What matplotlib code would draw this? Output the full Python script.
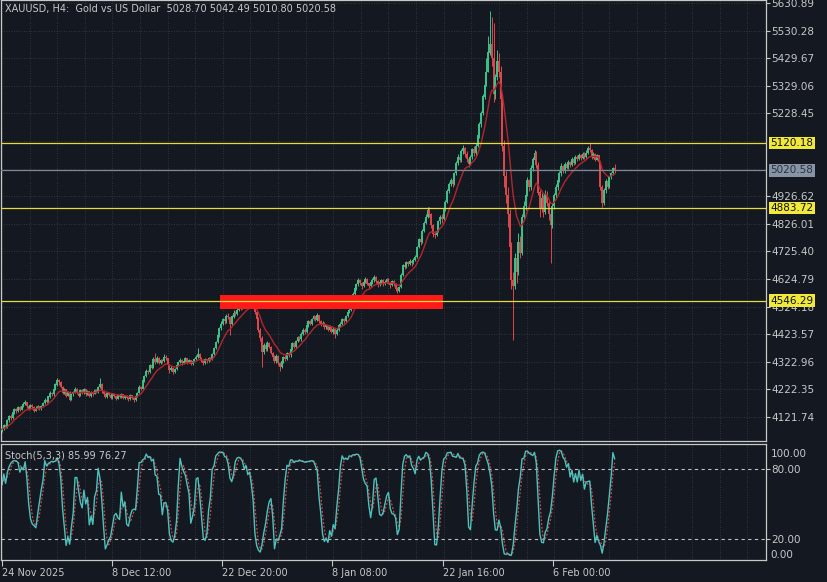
import numpy as np
import pandas as pd
import matplotlib
matplotlib.use('Agg')
import matplotlib.pyplot as plt
from matplotlib.patches import Rectangle
import matplotlib.transforms as mtransforms

# --- data (one value per candle) ---
first_open = 4070

closes = [
    4078, 4092, 4085, 4110, 4124, 4118, 4138, 4150, 4142, 4158,
    4148, 4162, 4170, 4176, 4160, 4152, 4166, 4158, 4145, 4155,
    4160, 4150, 4162, 4172, 4185, 4178, 4196, 4210, 4204, 4225,
    4240, 4255, 4248, 4232, 4210, 4222, 4200, 4214, 4185, 4205,
    4212, 4225, 4208, 4200, 4218, 4210, 4222, 4205, 4215, 4200,
    4212, 4206, 4220, 4214, 4230, 4242, 4215, 4205, 4196, 4210,
    4202, 4190, 4206, 4198, 4188, 4200, 4194, 4205, 4190, 4198,
    4192, 4186, 4200, 4190, 4182, 4196, 4210, 4232, 4225, 4255,
    4270, 4290, 4284, 4310, 4302, 4332, 4322, 4338, 4318, 4330,
    4325, 4340, 4335, 4310, 4292, 4300, 4285, 4298, 4310, 4322,
    4330, 4318, 4326, 4335, 4320, 4328, 4316, 4325, 4334, 4340,
    4350, 4336, 4328, 4318, 4332, 4325, 4338, 4330, 4352, 4372,
    4395, 4420, 4445, 4462, 4478, 4470, 4490, 4485, 4460, 4488,
    4502, 4496, 4512, 4525, 4518, 4535, 4530, 4545, 4538, 4548,
    4540, 4528, 4505, 4480, 4440, 4410, 4360, 4385, 4370, 4390,
    4378, 4355, 4340, 4325, 4345, 4318, 4305, 4325, 4340, 4332,
    4355, 4348, 4370, 4390, 4378, 4400, 4412, 4405, 4425, 4440,
    4432, 4455, 4470, 4462, 4480, 4488, 4475, 4492, 4470, 4460,
    4465, 4448, 4455, 4440, 4450, 4432, 4442, 4425, 4440, 4455,
    4462, 4478, 4470, 4490, 4505, 4512, 4530, 4570, 4590, 4605,
    4620, 4610, 4600, 4615, 4625, 4608, 4598, 4612, 4622, 4630,
    4618, 4605, 4612, 4620, 4608, 4615, 4625, 4610, 4602, 4616,
    4605, 4590, 4582, 4595, 4640, 4675, 4670, 4685, 4678, 4690,
    4682, 4695, 4705, 4740, 4770, 4760, 4800, 4830, 4852, 4875,
    4860, 4820, 4790, 4785, 4800, 4835, 4850, 4845, 4880, 4905,
    4945, 4972, 4985, 4970, 5010, 5048, 5070, 5060, 5090, 5100,
    5080, 5062, 5045, 5070, 5098, 5085, 5110, 5150, 5190, 5230,
    5290, 5330, 5380, 5450, 5480, 5430, 5300, 5360, 5420, 5380,
    5280, 5110, 5000, 4930, 4860, 4740, 4620, 4600, 4700, 4650,
    4760, 4720, 4850, 4890, 4930, 4985, 4960, 5030, 5060, 5085,
    5040, 4940, 4880, 4920, 4870, 4935, 4900, 4860, 4820, 4890,
    4930, 4960, 4985, 5010, 5035, 5020, 5045, 5030, 5050, 5040,
    5060, 5048, 5070, 5062, 5078, 5065, 5080, 5070, 5085, 5100,
    5095, 5070, 5080, 5060, 5075, 5050, 4960, 4900, 4950, 4980,
    4960, 4995, 5010, 5028.70, 5020.58,
]

highs = [
    4084, 4098, 4100, 4115, 4130, 4132, 4142, 4156, 4155, 4163,
    4160, 4166, 4175, 4182, 4178, 4164, 4170, 4168, 4160, 4160,
    4166, 4163, 4166, 4176, 4190, 4188, 4200, 4215, 4214, 4230,
    4246, 4264, 4262, 4252, 4236, 4226, 4224, 4218, 4216, 4210,
    4218, 4230, 4228, 4212, 4222, 4222, 4228, 4225, 4220, 4218,
    4216, 4215, 4224, 4222, 4234, 4264, 4245, 4220, 4208, 4214,
    4214, 4205, 4210, 4208, 4200, 4204, 4203, 4210, 4207, 4202,
    4202, 4195, 4204, 4202, 4192, 4200, 4214, 4238, 4236, 4260,
    4276, 4296, 4294, 4315, 4314, 4340, 4355, 4344, 4340, 4334,
    4334, 4350, 4348, 4338, 4314, 4306, 4304, 4302, 4315, 4326,
    4336, 4334, 4330, 4340, 4338, 4332, 4330, 4328, 4338, 4346,
    4373, 4354, 4340, 4332, 4336, 4334, 4342, 4340, 4356, 4378,
    4400, 4425, 4450, 4470, 4484, 4486, 4496, 4500, 4488, 4494,
    4510, 4508, 4518, 4530, 4530, 4540, 4542, 4552, 4550, 4555,
    4556, 4548, 4532, 4510, 4486, 4446, 4416, 4392, 4394, 4398,
    4395, 4382, 4360, 4346, 4350, 4348, 4322, 4330, 4344, 4346,
    4360, 4360, 4375, 4395, 4394, 4404, 4418, 4416, 4430, 4446,
    4446, 4460, 4476, 4475, 4484, 4494, 4490, 4500, 4494, 4474,
    4472, 4468, 4460, 4458, 4456, 4452, 4448, 4444, 4445, 4460,
    4468, 4482, 4482, 4494, 4510, 4518, 4536, 4576, 4600, 4612,
    4628, 4626, 4614, 4620, 4632, 4628, 4612, 4618, 4628, 4638,
    4634, 4622, 4618, 4626, 4624, 4620, 4630, 4628, 4614, 4620,
    4620, 4610, 4594, 4600, 4646, 4680, 4684, 4690, 4690, 4696,
    4694, 4700, 4712, 4746, 4776, 4782, 4806, 4836, 4860, 4887,
    4888, 4866, 4826, 4800, 4810, 4840, 4858, 4862, 4886, 4912,
    4952, 4980, 4992, 4990, 5016, 5054, 5080, 5078, 5098, 5112,
    5106, 5090, 5068, 5076, 5104, 5108, 5120, 5158, 5198, 5238,
    5300, 5350, 5430, 5512, 5600, 5580, 5558, 5372, 5460, 5450,
    5400, 5290, 5130, 5020, 4960, 4880, 4760, 4650, 4720, 4730,
    4792, 4780, 4860, 4910, 4938, 4995, 4990, 5040, 5070, 5095,
    5092, 5050, 4950, 4940, 4930, 4950, 4945, 4912, 4880, 4900,
    4940, 4970, 4995, 5018, 5048, 5040, 5050, 5052, 5058, 5056,
    5068, 5066, 5078, 5076, 5084, 5082, 5088, 5086, 5094, 5110,
    5120, 5100, 5088, 5084, 5080, 5078, 5055, 4968, 4958, 4988,
    4985, 5002, 5016, 5034, 5042.49,
]

lows = [
    4066, 4074, 4080, 4082, 4105, 4112, 4114, 4134, 4138, 4140,
    4144, 4146, 4158, 4165, 4156, 4148, 4150, 4152, 4140, 4142,
    4150, 4146, 4148, 4160, 4170, 4174, 4176, 4192, 4198, 4200,
    4220, 4236, 4240, 4228, 4205, 4206, 4196, 4198, 4180, 4182,
    4200, 4208, 4204, 4196, 4198, 4206, 4206, 4200, 4202, 4196,
    4196, 4200, 4204, 4208, 4210, 4226, 4210, 4200, 4190, 4192,
    4198, 4186, 4188, 4194, 4184, 4186, 4190, 4192, 4186, 4188,
    4188, 4180, 4184, 4186, 4176, 4180, 4194, 4208, 4220, 4222,
    4250, 4266, 4278, 4282, 4296, 4300, 4316, 4318, 4314, 4315,
    4318, 4322, 4330, 4305, 4282, 4288, 4278, 4282, 4294, 4306,
    4318, 4312, 4314, 4322, 4316, 4318, 4312, 4312, 4322, 4330,
    4336, 4330, 4322, 4312, 4316, 4320, 4322, 4325, 4328, 4348,
    4368, 4390, 4415, 4440, 4456, 4462, 4466, 4478, 4421, 4456,
    4484, 4490, 4492, 4508, 4512, 4514, 4524, 4526, 4532, 4532,
    4534, 4520, 4498, 4470, 4430, 4400, 4304, 4352, 4362, 4364,
    4372, 4350, 4330, 4318, 4320, 4310, 4290, 4300, 4320, 4326,
    4328, 4340, 4342, 4366, 4372, 4374, 4396, 4398, 4400, 4420,
    4425, 4428, 4450, 4456, 4458, 4474, 4470, 4470, 4465, 4452,
    4454, 4442, 4444, 4434, 4436, 4428, 4426, 4410, 4420, 4436,
    4448, 4458, 4464, 4468, 4486, 4500, 4508, 4528, 4566, 4584,
    4600, 4604, 4590, 4596, 4610, 4602, 4590, 4594, 4608, 4615,
    4612, 4596, 4600, 4606, 4600, 4602, 4610, 4606, 4592, 4598,
    4598, 4580, 4574, 4578, 4592, 4636, 4662, 4665, 4672, 4674,
    4672, 4678, 4690, 4700, 4736, 4748, 4756, 4796, 4826, 4848,
    4850, 4810, 4778, 4774, 4780, 4796, 4826, 4830, 4840, 4872,
    4900, 4940, 4962, 4960, 4966, 5004, 5040, 5050, 5052, 5082,
    5070, 5052, 5033, 5040, 5064, 5074, 5078, 5106, 5140, 5180,
    5222, 5280, 5330, 5380, 5440, 5400, 5270, 5280, 5350, 5360,
    5260, 5090, 4960, 4900, 4814, 4720, 4590, 4402, 4590, 4610,
    4640, 4700, 4712, 4840, 4876, 4926, 4946, 4950, 5020, 5046,
    5030, 4930, 4850, 4870, 4851, 4862, 4890, 4840, 4683, 4810,
    4880, 4920, 4950, 4978, 5000, 5010, 5012, 5024, 5026, 5032,
    5036, 5040, 5044, 5055, 5058, 5058, 5062, 5062, 5066, 5080,
    5086, 5064, 5066, 5054, 5058, 5044, 4950, 4887, 4895, 4940,
    4952, 4955, 4990, 5004, 5010.80,
]

# levels drawn on the chart
level_lines = [5120.18, 4883.72, 4546.29]
last_price = 5020.58
zone_bars = (122.6, 247.5)      # red zone, in bars
zone_prices = (4515.4, 4566.4)

price_ticks = [4121.74, 4222.35, 4322.96, 4423.57, 4524.18, 4624.79, 4725.40,
               4826.01, 4926.62, 5027.23, 5127.84, 5228.45, 5329.06, 5429.67,
               5530.28, 5630.89]
shown_ticks = [t for t in price_ticks if t not in (5027.23, 5127.84)]

date_labels = ['24 Nov 2025', '8 Dec 12:00', '22 Dec 20:00', '8 Jan 08:00',
               '22 Jan 16:00', '6 Feb 00:00']
date_bars = [0, 61.5, 123.5, 185.5, 247.5, 309.5]

header = 'XAUUSD, H4:  Gold vs US Dollar  5028.70 5042.49 5010.80 5020.58'
stoch_title = 'Stoch(5,3,3) 85.99 76.27'

# --- prepare series ---
c = np.array(closes, dtype=float)
o = np.r_[first_open, c[:-1]]
h = np.maximum(np.array(highs, dtype=float), np.maximum(o, c))
l = np.minimum(np.array(lows, dtype=float), np.minimum(o, c))
x = np.arange(len(c))

# moving average (red line on the candles)
ma = pd.Series(c).ewm(span=11, adjust=False).mean()

# stochastic 5,3,3
hh = pd.Series(h).rolling(5, min_periods=1).max()
ll = pd.Series(l).rolling(5, min_periods=1).min()
num = (pd.Series(c) - ll).rolling(3, min_periods=1).sum()
den = (hh - ll).rolling(3, min_periods=1).sum()
k_line = 100 * num / den
d_line = k_line.rolling(3, min_periods=1).mean()

# --- colours ---
bg = '#141821'
fg = '#c8c8c8'
grid_c = '#3a3f4b'
up_c = '#3cc38a'
dn_c = '#e0484c'

W, H = 828, 582
fig = plt.figure(figsize=(W / 100, H / 100), dpi=100, facecolor=bg)

x_left = -1 / 1.781
x_right = (765 - 1) / 1.781

ax = fig.add_axes([1 / W, 1 - 441 / H, 765 / W, 441 / H], facecolor=bg)
ax2 = fig.add_axes([1 / W, 1 - 560 / H, 765 / W, 116 / H], facecolor=bg, sharex=ax)

# vertical grid every quarter of a date label step
vgrid = np.arange(0, x_right, 15.5)
for a in (ax, ax2):
    for gx in vgrid:
        a.axvline(gx, color=grid_c, lw=0.6, ls=(0, (1, 2)), zorder=0)
for t in price_ticks:
    ax.axhline(t, color=grid_c, lw=0.6, ls=(0, (1, 2)), zorder=0)

# candles: thin wick plus a slightly thicker body
colors = np.where(c >= o, up_c, dn_c)
ax.vlines(x, l, h, colors=colors, lw=0.7, zorder=3)
ax.vlines(x, np.minimum(o, c), np.maximum(o, c) + 0.5, colors=colors, lw=1.4, zorder=3)

ax.plot(x, ma, color='#b3262b', lw=1.0, zorder=4)

# red zone and horizontal levels
ax.add_patch(Rectangle((zone_bars[0], zone_prices[0]), zone_bars[1] - zone_bars[0],
                       zone_prices[1] - zone_prices[0], color='#ff1a1a', zorder=5, lw=0))
for lv in level_lines:
    ax.axhline(lv, color='#e8dc3a', lw=0.9, zorder=6)
ax.axhline(last_price, color='#7d8796', lw=0.9, zorder=6)

ax.set_xlim(x_left, x_right)
ax.set_ylim(5641.8 - 3.6453 * 441, 5641.8)

# right price scale
ax.yaxis.tick_right()
ax.set_yticks(shown_ticks)
ax.set_yticklabels(['%.2f' % t for t in shown_ticks])
ax.tick_params(axis='y', colors=fg, labelsize=7.5, length=3, pad=1, width=0.8)
ax.tick_params(axis='x', bottom=False, labelbottom=False)

trans = mtransforms.blended_transform_factory(ax.transAxes, ax.transData)
for lv in level_lines:
    ax.text(1.006, lv, '%.2f' % lv, transform=trans, fontsize=7.5, color='#111111',
            va='center', ha='left', zorder=10,
            bbox=dict(boxstyle='square,pad=0.12', fc='#f0e83a', ec='none'))
ax.text(1.006, last_price, '%.2f' % last_price, transform=trans, fontsize=7.5,
        color='#2b3140', va='center', ha='left', zorder=10,
        bbox=dict(boxstyle='square,pad=0.12', fc='#8794a6', ec='none'))

ax.text(4 / 765, 1 - 9 / 441, header, transform=ax.transAxes, color=fg,
        fontsize=7, va='center', ha='left')

# stochastic panel
ax2.axhline(80, color='#bfbfbf', lw=0.8, ls=(0, (3, 3)))
ax2.axhline(20, color='#bfbfbf', lw=0.8, ls=(0, (3, 3)))
ax2.plot(x, d_line, color='#d0484c', lw=0.9, ls=(0, (1.5, 1.5)))
ax2.plot(x, k_line, color='#4cc2bd', lw=1.0)
ax2.set_ylim(1.5, 101.9)
ax2.text(4 / 765, 1 - 11 / 116, stoch_title, transform=ax2.transAxes, color=fg,
         fontsize=7, va='center', ha='left')

trans2 = mtransforms.blended_transform_factory(ax2.transAxes, ax2.transData)
ax2.yaxis.tick_right()
ax2.set_yticks([20, 80])
ax2.set_yticklabels(['20.00', '80.00'])
ax2.tick_params(axis='y', colors=fg, labelsize=7.5, length=3, pad=1, width=0.8)
ax2.text(1.006, 93.5, '100.00', transform=trans2, fontsize=7.5, color=fg,
         va='center', ha='left')
ax2.text(1.006, 6.0, '0.00', transform=trans2, fontsize=7.5, color=fg,
         va='center', ha='left')

ax2.set_xticks(date_bars)
ax2.set_xticklabels(date_labels)
ax2.tick_params(axis='x', colors=fg, labelsize=7, length=4, pad=2, width=0.8)
for lbl in ax2.get_xticklabels():
    lbl.set_ha('left')

for a in (ax, ax2):
    for s in a.spines.values():
        s.set_color('#c8c8c8')
        s.set_linewidth(0.9)

fig.savefig('out.png', dpi=100, facecolor=bg)
